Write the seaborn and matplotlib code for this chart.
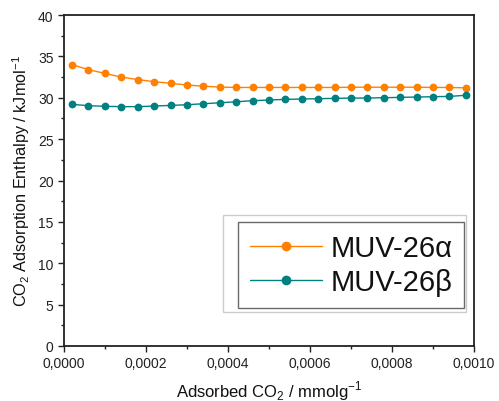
import numpy as np
import pandas as pd
import matplotlib
matplotlib.use("Agg")
import matplotlib.pyplot as plt
import matplotlib.patches as mpatches
import seaborn as sns
from matplotlib.ticker import MultipleLocator, FuncFormatter

x_vals = [0.00002, 0.00006, 0.00010, 0.00014, 0.00018, 0.00022, 0.00026, 0.00030,
          0.00034, 0.00038, 0.00042, 0.00046, 0.00050, 0.00054, 0.00058, 0.00062,
          0.00066, 0.00070, 0.00074, 0.00078, 0.00082, 0.00086, 0.00090, 0.00094, 0.00098]
alpha_vals = [34.0, 33.4, 32.95, 32.5, 32.2, 31.95, 31.75, 31.55, 31.4, 31.3, 31.25, 31.25,
              31.25, 31.25, 31.25, 31.25, 31.25, 31.28, 31.28, 31.28, 31.28, 31.28, 31.25, 31.25, 31.2]
beta_vals = [29.2, 29.05, 28.97, 28.93, 28.93, 29.0, 29.08, 29.16, 29.28, 29.4, 29.52, 29.65,
             29.73, 29.81, 29.85, 29.89, 29.93, 29.97, 29.97, 30.01, 30.05, 30.09, 30.13, 30.17, 30.3]
series_names = ["MUV-26\u03b1", "MUV-26\u03b2"]
colors = ["#FF8000", "#008080"]

df = pd.DataFrame({
    "x": x_vals * 2,
    "y": alpha_vals + beta_vals,
    "series": [series_names[0]] * len(x_vals) + [series_names[1]] * len(x_vals),
})

sns.set_style("ticks")
plt.rcParams["font.family"] = ["Liberation Sans", "DejaVu Sans"]
plt.rcParams["mathtext.fontset"] = "custom"
plt.rcParams["mathtext.rm"] = "Liberation Sans"
plt.rcParams["text.color"] = "#111111"
plt.rcParams["axes.labelcolor"] = "#111111"

fig = plt.figure(figsize=(4.99, 4.02), dpi=100)
ax = fig.add_axes([0.128, 0.137, 0.822, 0.823])

sns.lineplot(data=df, x="x", y="y", hue="series", palette=colors, marker="o",
             markersize=5.6, markeredgewidth=0, linewidth=1.0, ax=ax)

ax.set_xlim(0, 0.001)
ax.set_ylim(0, 40)
ax.xaxis.set_major_locator(MultipleLocator(0.0002))
ax.xaxis.set_minor_locator(MultipleLocator(0.0001))
ax.yaxis.set_major_locator(MultipleLocator(5))
ax.yaxis.set_minor_locator(MultipleLocator(2.5))
ax.xaxis.set_major_formatter(FuncFormatter(lambda v, p: f"{v:.4f}".replace(".", ",")))
ax.yaxis.set_major_formatter(FuncFormatter(lambda v, p: f"{v:.0f}"))
ax.tick_params(which="major", direction="out", length=4, width=1, labelsize=10,
               colors="#222222", labelcolor="#222222")
ax.tick_params(which="minor", direction="out", length=2.5, width=1, colors="#222222")

for s in ax.spines.values():
    s.set_visible(True)
    s.set_linewidth(1.3)
    s.set_color("#222222")

ax.set_xlabel("Adsorbed CO$_2$ / mmolg$^{-1}$", fontsize=12, labelpad=6)
ax.set_ylabel("CO$_2$ Adsorption Enthalpy / kJmol$^{-1}$", fontsize=11.7, labelpad=4)

# light outer box behind legend
outer = mpatches.Rectangle((223 / 499, 1 - 313 / 402), (466 - 223) / 499, (313 - 216) / 402,
                           transform=fig.transFigure, facecolor="white",
                           edgecolor="#cccccc", linewidth=1.0, zorder=5)
ax.add_patch(outer)
outer.set_clip_on(False)

leg = ax.legend(loc="lower right", bbox_to_anchor=(464 / 499, 1 - 308.5 / 402),
                bbox_transform=fig.transFigure, fontsize=21,
                frameon=True, fancybox=False, handlelength=2.45, borderpad=0.4,
                labelspacing=0.2, handletextpad=0.3, borderaxespad=0)
leg.set_zorder(6)
leg.get_frame().set_edgecolor("#444444")
leg.get_frame().set_linewidth(1.0)
for t in leg.get_texts():
    t.set_color("#111111")
for h in leg.get_lines():
    h.set_markersize(7)

fig.savefig("out.png", dpi=100)
